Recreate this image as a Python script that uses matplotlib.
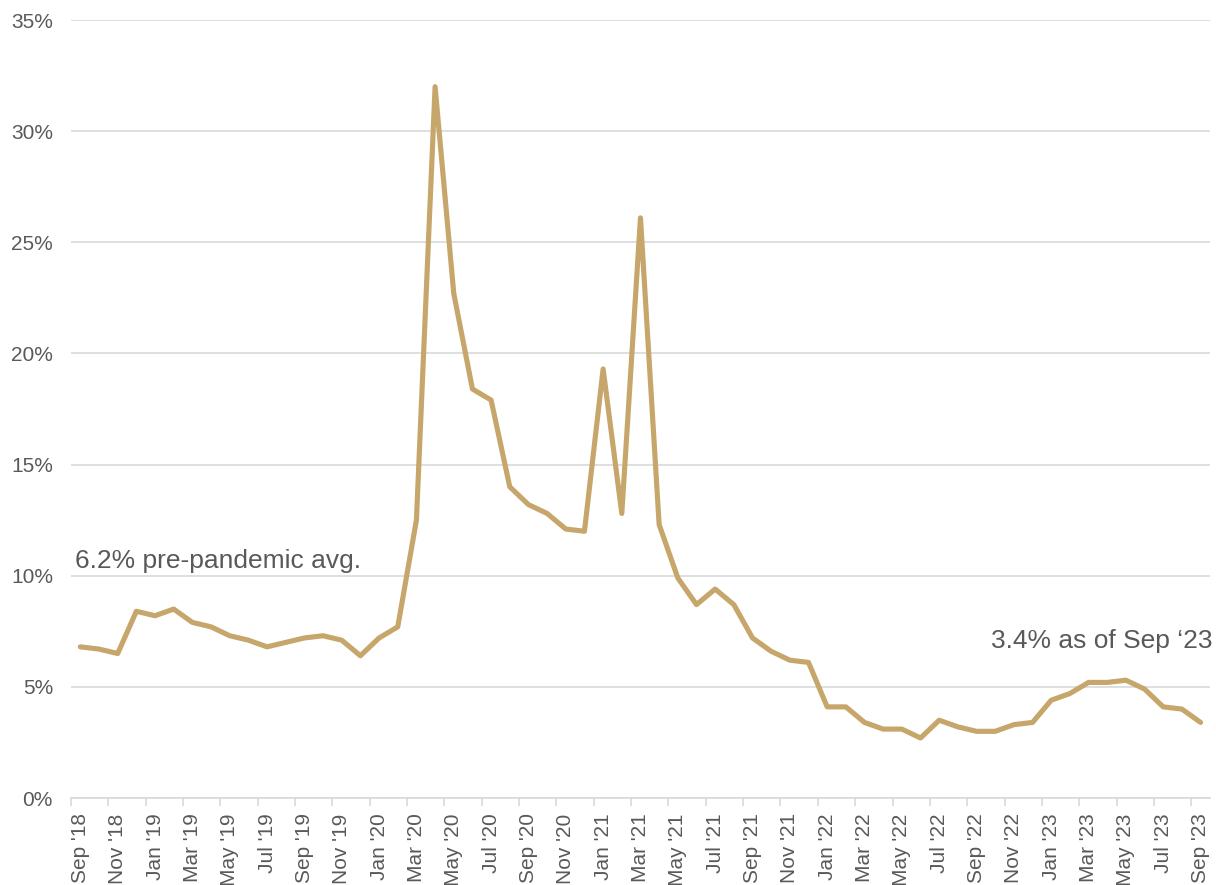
import matplotlib
matplotlib.use("Agg")
import matplotlib.pyplot as plt
from matplotlib.ticker import FixedLocator, FuncFormatter

# Monthly rate, Sep 2018 - Sep 2023 (percent)
months = [
    "Sep '18", "Oct '18", "Nov '18", "Dec '18",
    "Jan '19", "Feb '19", "Mar '19", "Apr '19", "May '19", "Jun '19",
    "Jul '19", "Aug '19", "Sep '19", "Oct '19", "Nov '19", "Dec '19",
    "Jan '20", "Feb '20", "Mar '20", "Apr '20", "May '20", "Jun '20",
    "Jul '20", "Aug '20", "Sep '20", "Oct '20", "Nov '20", "Dec '20",
    "Jan '21", "Feb '21", "Mar '21", "Apr '21", "May '21", "Jun '21",
    "Jul '21", "Aug '21", "Sep '21", "Oct '21", "Nov '21", "Dec '21",
    "Jan '22", "Feb '22", "Mar '22", "Apr '22", "May '22", "Jun '22",
    "Jul '22", "Aug '22", "Sep '22", "Oct '22", "Nov '22", "Dec '22",
    "Jan '23", "Feb '23", "Mar '23", "Apr '23", "May '23", "Jun '23",
    "Jul '23", "Aug '23", "Sep '23",
]
rate = [
    6.8, 6.7, 6.5, 8.4,
    8.2, 8.5, 7.9, 7.7, 7.3, 7.1,
    6.8, 7.0, 7.2, 7.3, 7.1, 6.4,
    7.2, 7.7, 12.5, 32.0, 22.7, 18.4,
    17.9, 14.0, 13.2, 12.8, 12.1, 12.0,
    19.3, 12.8, 26.1, 12.3, 9.9, 8.7,
    9.4, 8.7, 7.2, 6.6, 6.2, 6.1,
    4.1, 4.1, 3.4, 3.1, 3.1, 2.7,
    3.5, 3.2, 3.0, 3.0, 3.3, 3.4,
    4.4, 4.7, 5.2, 5.2, 5.3, 4.9,
    4.1, 4.0, 3.4,
]
y_ticks = [0, 5, 10, 15, 20, 25, 30, 35]
pre_pandemic_label = "6.2% pre-pandemic avg."
latest_label = "3.4% as of Sep \u201823"

LINE = "#C6A66A"
TEXT = "#595959"
GRID = "#D9D9D9"

plt.rcParams["font.family"] = ["Liberation Sans", "DejaVu Sans"]

fig = plt.figure(figsize=(12.16, 8.85), dpi=100)
ax = fig.add_axes([0.0584, 0.0983, 0.9366, 0.8791])

x = list(range(len(rate)))
ax.plot(x, rate, color=LINE, lw=3.7, solid_joinstyle="round",
        solid_capstyle="round", zorder=3)

ax.set_xlim(-0.5, len(rate) - 0.5)
ax.set_ylim(0, 35)

# y axis: percent labels with horizontal gridlines
ax.set_yticks(y_ticks)
ax.yaxis.set_major_formatter(FuncFormatter(lambda v, _: f"{v:.0f}%"))
ax.tick_params(axis="y", length=0, labelsize=15, labelcolor=TEXT, pad=13)
ax.grid(axis="y", color=GRID, lw=1.2, zorder=0)

# x axis: every other month labelled, tick marks on category boundaries
ax.set_xticks(x[::2])
ax.set_xticklabels(months[::2], rotation=90)
ax.tick_params(axis="x", which="major", length=0, labelsize=15,
               labelcolor=TEXT, pad=11)
ax.xaxis.set_minor_locator(FixedLocator([i - 0.5 for i in range(0, len(rate) + 1, 2)]))
ax.tick_params(axis="x", which="minor", length=6, width=1.2, color=GRID)

for side in ("left", "right", "top"):
    ax.spines[side].set_visible(False)
ax.spines["bottom"].set_color(GRID)
ax.spines["bottom"].set_linewidth(1.2)

ax.text(-0.3, 10.65, pre_pandemic_label, ha="left", va="center",
        fontsize=19, color=TEXT)
ax.text(60.65, 7.05, latest_label, ha="right", va="center",
        fontsize=19, color=TEXT, clip_on=False)

fig.savefig("out.png", dpi=100)
